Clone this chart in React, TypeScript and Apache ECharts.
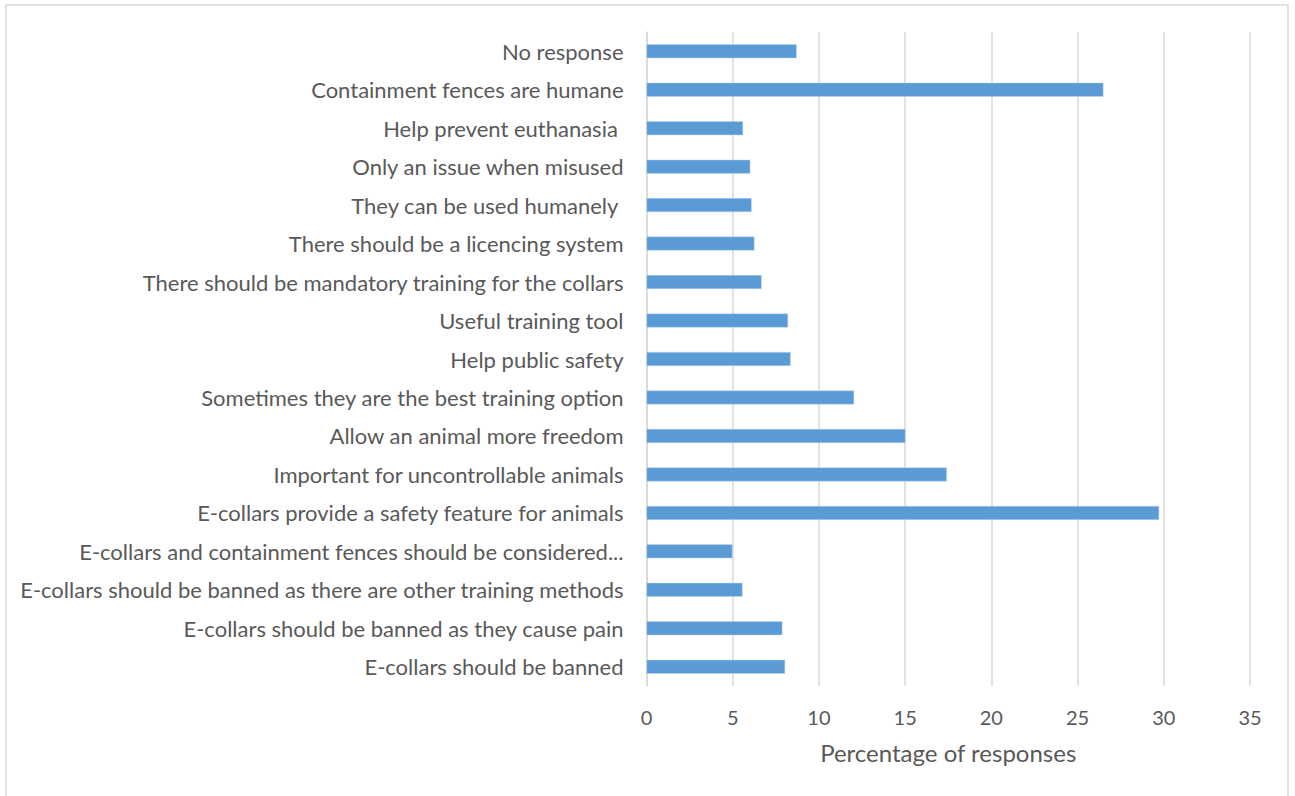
import React, { useEffect, useRef } from "react";
import * as echarts from "echarts";

const categories: string[] = [
  "No response",
  "Containment fences are humane",
  "Help prevent euthanasia ",
  "Only an issue when misused",
  "They can be used humanely ",
  "There should be a licencing system",
  "There should be mandatory training for the collars",
  "Useful training tool",
  "Help public safety",
  "Sometimes they are the best training option",
  "Allow an animal more freedom",
  "Important for uncontrollable animals",
  "E-collars provide a safety feature for animals",
  "E-collars and containment fences should be considered...",
  "E-collars should be banned as there are other training methods",
  "E-collars should be banned as they cause pain",
  "E-collars should be banned",
];

const values: number[] = [
  8.71, 26.5, 5.6, 6.02, 6.1, 6.26, 6.68, 8.21, 8.36, 12.04, 15.02, 17.42, 29.73, 4.99, 5.57, 7.88, 8.04,
];

const xTicks = { min: 0, max: 35, interval: 5 };
const xName = "Percentage of responses";

const FONT = "Lato";
const TEXT = "#595959";

export default function App() {
  const ref = useRef<HTMLDivElement>(null);
  useEffect(() => {
    document.body.style.margin = "0";
    if (!ref.current) return;
    const chart = echarts.init(ref.current, null, { renderer: "svg" });
    chart.setOption({
      animation: false,
      backgroundColor: "#ffffff",
      graphic: [
        {
          type: "rect",
          shape: { x: 6, y: 5, width: 1282, height: 800 },
          style: { fill: "none", stroke: "#D9D9D9", lineWidth: 1.5 },
          silent: true,
        },
      ],
      grid: { left: 646.5, right: 45, top: 32, bottom: 110, containLabel: false },
      xAxis: {
        type: "value",
        min: xTicks.min,
        max: xTicks.max,
        interval: xTicks.interval,
        name: xName,
        nameLocation: "middle",
        nameGap: 54,
        nameTextStyle: { color: TEXT, fontFamily: FONT, fontSize: 24 },
        axisLine: { show: false },
        axisTick: { show: false },
        axisLabel: { color: TEXT, fontFamily: FONT, fontSize: 20, margin: 21 },
        splitLine: { show: true, lineStyle: { color: "#D9D9D9", width: 1.5 } },
      },
      yAxis: {
        type: "category",
        data: categories,
        inverse: true,
        axisLine: { show: true, lineStyle: { color: "#D9D9D9", width: 1.5 } },
        axisTick: { show: false },
        axisLabel: { color: TEXT, fontFamily: FONT, fontSize: 22, margin: 23 },
        splitLine: { show: false },
      },
      series: [
        {
          type: "bar",
          data: values,
          barWidth: 14,
          itemStyle: { color: "#5B9BD5", borderColor: "#BDD7EE", borderWidth: 0.5 },
        },
      ],
    });
    return () => chart.dispose();
  }, []);
  return <div ref={ref} style={{ width: 1295, height: 796 }} />;
}
